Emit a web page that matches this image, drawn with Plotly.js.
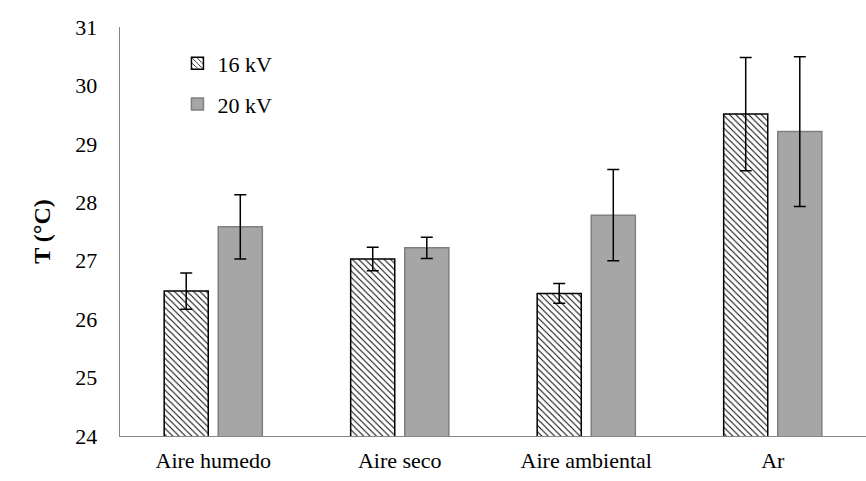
<!DOCTYPE html>
<html>
<head>
<meta charset="utf-8">
<script src="https://cdn.plot.ly/plotly-3.0.1.min.js"></script>
<style>html,body{margin:0;padding:0;background:#fff;}#chart{width:866px;height:481px;}</style>
</head>
<body>
<div id="chart"></div>
<script>
const categories = ["Aire humedo", "Aire seco", "Aire ambiental", "Ar"];
const values16 = [26.48, 27.03, 26.44, 29.51];
const errors16 = [0.31, 0.20, 0.17, 0.97];
const values20 = [27.58, 27.22, 27.78, 29.21];
const errors20 = [0.55, 0.18, 0.78, 1.28];
const seriesNames = ["16 kV", "20 kV"];
const yTicks = [24, 25, 26, 27, 28, 29, 30, 31];

const fontFam = "'Liberation Serif', 'Times New Roman', serif";

const traces = [
  {
    type: "bar", name: seriesNames[0], x: categories, y: values16, legendgroup: "a",
    marker: {
      color: "#ffffff",
      line: {color: "#000000", width: 1.5},
      pattern: {shape: "\\", fgcolor: "#000000", bgcolor: "#ffffff", size: 4.5, solidity: 0.22}
    },
    error_y: {type: "data", array: errors16, visible: true, color: "#000000", thickness: 1.5, width: 6}
  },
  {
    type: "bar", name: seriesNames[1], x: categories, y: values20, legendgroup: "b",
    marker: {color: "#a6a6a6", line: {color: "#7f7f7f", width: 1.5}},
    error_y: {type: "data", array: errors20, visible: true, color: "#000000", thickness: 1.5, width: 6}
  }
];

const layout = {
  width: 866, height: 481,
  margin: {l: 120, r: 0, t: 27, b: 45},
  paper_bgcolor: "#ffffff", plot_bgcolor: "#ffffff",
  font: {family: fontFam, size: 22, color: "#000000"},
  barmode: "group", bargap: 0.42, bargroupgap: 0.185,
  showlegend: true,
  legend: {
    x: 0.077, y: 0.962, xanchor: "left", yanchor: "top",
    bgcolor: "rgba(0,0,0,0)", font: {family: fontFam, size: 22, color: "#000000"},
    tracegroupgap: 9, itemwidth: 30
  },
  xaxis: {
    showline: true, linecolor: "#868686", linewidth: 1.3,
    ticks: "", showgrid: false, zeroline: false,
    tickfont: {family: fontFam, size: 22},
    ticklabelstandoff: 4, automargin: false
  },
  yaxis: {
    range: [24, 31], tickvals: yTicks, ticktext: yTicks.map(String),
    showline: true, linecolor: "#868686", linewidth: 1.3,
    ticks: "", showgrid: false, zeroline: false,
    tickfont: {family: fontFam, size: 22},
    ticklabelstandoff: 17, automargin: false,
    title: {text: "<b>T (°C)</b>", font: {family: fontFam, size: 24}, standoff: 18}
  }
};

Plotly.newPlot("chart", traces, layout, {displayModeBar: false, staticPlot: true});
</script>
</body>
</html>
